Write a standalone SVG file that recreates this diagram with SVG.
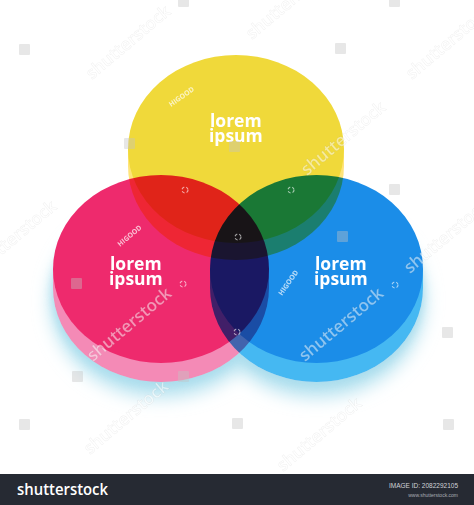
<svg xmlns="http://www.w3.org/2000/svg" width="474" height="505" viewBox="0 0 474 505">
<style>
.mul{mix-blend-mode:multiply}
.lbl{font-family:"Open Sans","Liberation Sans",sans-serif;font-weight:700;font-size:17.5px;fill:#ffffff}
.wm{font-family:"Open Sans","Liberation Sans",sans-serif;font-weight:600;font-size:17px;fill:#ffffff;fill-opacity:0.5;stroke:#000;stroke-opacity:0.06;stroke-width:0.6}
.hg{font-family:"Open Sans","Liberation Sans",sans-serif;font-weight:700;font-size:7px;fill:#ffffff;fill-opacity:0.7}
.ico{fill:#c4c4c4;fill-opacity:0.4}
.spin{fill:none;stroke:#ffffff;stroke-opacity:0.6;stroke-width:1.2;stroke-dasharray:3 2}
</style>
<defs>
<filter id="blur" x="-30%" y="-30%" width="160%" height="160%"><feGaussianBlur stdDeviation="9"/></filter>
<filter id="blur2" x="-30%" y="-30%" width="160%" height="160%"><feGaussianBlur stdDeviation="4"/></filter>
</defs>
<rect width="474" height="505" fill="#ffffff"/>
<g id="shadow">
<g filter="url(#blur)" fill="#b3e1ef">
<ellipse cx="161" cy="301" rx="110" ry="96"/>
<ellipse cx="316.5" cy="301" rx="108" ry="96"/>
</g>
<g filter="url(#blur2)" fill="#a8dcec" opacity="0.8">
<ellipse cx="161" cy="292" rx="109" ry="94"/>
<ellipse cx="316.5" cy="292" rx="107" ry="94"/>
</g>
</g>
<g id="knockout" fill="#ffffff">
<path d="M53,269 L53,288 A108,94 0 0 0 269,288 L269,269 Z"/>
<ellipse cx="161" cy="269" rx="108" ry="94"/>
<path d="M210,269 L210,288 A106.5,94 0 0 0 423,288 L423,269 Z"/>
<ellipse cx="316.5" cy="269" rx="106.5" ry="94"/>
</g>
<g id="connectors"></g>
<g id="node-yellow" class="mul">
<path d="M128,149 L128,166 A108,94 0 0 0 344,166 L344,149 Z" fill="#ffe47a"/>
<ellipse cx="236" cy="149" rx="108" ry="94" fill="#f0d93a"/>
</g>
<g id="node-pink" class="mul">
<path d="M53,269 L53,288 A108,94 0 0 0 269,288 L269,269 Z" fill="#f48ab6"/>
<ellipse cx="161" cy="269" rx="108" ry="94" fill="#ee2a6d"/>
</g>
<g id="node-blue" class="mul">
<path d="M210,269 L210,288 A106.5,94 0 0 0 423,288 L423,269 Z" fill="#45b8f2"/>
<ellipse cx="316.5" cy="269" rx="106.5" ry="94" fill="#1b8de8"/>
</g>
<g id="labels">
<text class="lbl" x="210" y="127">lorem</text>
<text class="lbl" x="209" y="142">ipsum</text>
<text class="lbl" x="110" y="270">lorem</text>
<text class="lbl" x="109" y="285">ipsum</text>
<text class="lbl" x="315" y="270">lorem</text>
<text class="lbl" x="314" y="285">ipsum</text>
</g>
<g id="watermark">
<rect class="ico" x="19" y="44" width="11" height="11" rx="1"/>
<rect class="ico" x="178" y="-3" width="11" height="10" rx="1"/>
<rect class="ico" x="389" y="-3" width="11" height="10" rx="1"/>
<rect class="ico" x="335" y="43" width="11" height="11" rx="1"/>
<rect class="ico" x="124" y="138" width="11" height="11" rx="1"/>
<rect class="ico" x="229" y="141" width="11" height="11" rx="1"/>
<rect class="ico" x="71" y="278" width="11" height="11" rx="1"/>
<rect class="ico" x="72" y="371" width="11" height="11" rx="1"/>
<rect class="ico" x="178" y="371" width="11" height="11" rx="1"/>
<rect class="ico" x="389" y="184" width="11" height="11" rx="1"/>
<rect class="ico" x="337" y="231" width="11" height="11" rx="1"/>
<rect class="ico" x="442" y="327" width="11" height="11" rx="1"/>
<rect class="ico" x="19" y="419" width="11" height="11" rx="1"/>
<rect class="ico" x="232" y="418" width="11" height="11" rx="1"/>
<rect class="ico" x="443" y="419" width="11" height="11" rx="1"/>
<circle class="spin" cx="185" cy="190" r="3"/>
<circle class="spin" cx="238" cy="237" r="3"/>
<circle class="spin" cx="291" cy="190" r="3"/>
<circle class="spin" cx="183" cy="284" r="3"/>
<circle class="spin" cx="395" cy="285" r="3"/>
<circle class="spin" cx="237" cy="332" r="3"/>
<text class="wm" transform="translate(93,362) rotate(-40)">shutterstock</text>
<text class="wm" transform="translate(305,362) rotate(-40)">shutterstock</text>
<text class="wm" transform="translate(307,176) rotate(-40)">shutterstock</text>
<text class="wm" transform="translate(410,274) rotate(-40)">shutterstock</text>
<text class="wm" transform="translate(90,455) rotate(-40)">shutterstock</text>
<text class="wm" transform="translate(283,472) rotate(-40)">shutterstock</text>
<text class="wm" transform="translate(-22,275) rotate(-40)">shutterstock</text>
<text class="wm" transform="translate(92,80) rotate(-40)">shutterstock</text>
<text class="wm" transform="translate(252,40) rotate(-40)">shutterstock</text>
<text class="wm" transform="translate(412,80) rotate(-40)">shutterstock</text>
<text class="hg" transform="translate(171,107) rotate(-35)">HIGOOD</text>
<text class="hg" transform="translate(120,247) rotate(-40)">HIGOOD</text>
<text class="hg" transform="translate(282,296) rotate(-55)">HIGOOD</text>
</g>
<g id="footer">
<rect x="0" y="474" width="474" height="31" fill="#262a33"/>
<text x="17" y="495" font-family="'Open Sans','Liberation Sans',sans-serif" font-weight="600" font-size="16" fill="#ffffff" textLength="91" lengthAdjust="spacingAndGlyphs">shutterstock</text>
<text x="458" y="488" text-anchor="end" font-family="'Liberation Sans',sans-serif" font-size="6.5" fill="#d0d3d8">IMAGE ID: 2082292105</text>
<text x="458" y="497" text-anchor="end" font-family="'Liberation Sans',sans-serif" font-size="5" fill="#a9adb4">www.shutterstock.com</text>
</g>
</svg>
